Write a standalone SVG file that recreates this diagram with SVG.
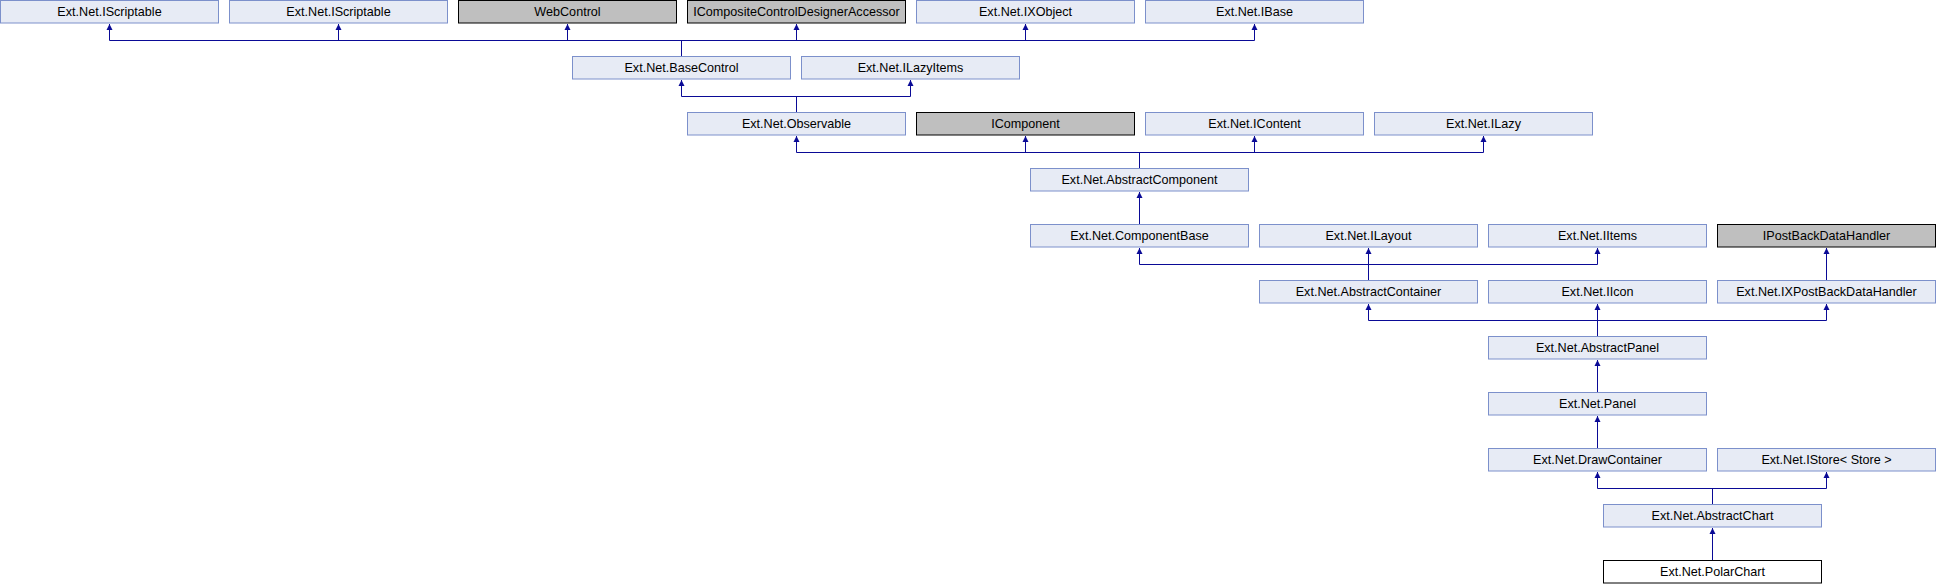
<svg xmlns="http://www.w3.org/2000/svg" width="1936" height="584" viewBox="0 0 1936 584">
<style>
.n rect{fill:#e7ebf5;stroke:#7c90cb;stroke-width:1}
.g rect{fill:#bfbfbf;stroke:#000;stroke-width:1}
.w rect{fill:#fff;stroke:#000;stroke-width:1}
text{font-family:"Liberation Sans",Arial,sans-serif;font-size:12.6px;fill:#000;text-anchor:middle}
#edges path{fill:none;stroke:#0a0a96;stroke-width:1}
#edges path.a{marker-end:url(#arr)}
</style>
<defs>
<marker id="arr" markerUnits="userSpaceOnUse" markerWidth="10" markerHeight="10" refX="0" refY="0" orient="auto" viewBox="-8 -5 10 10" overflow="visible">
<path d="M0,0 L-6,-3 L-6,3 Z" fill="#0a0a96" stroke="none"/>
</marker>
</defs>
<rect width="1936" height="584" fill="#fff"/>
<g id="edges">
<!-- BaseControl -> row0 -->
<path d="M109.5,40.5 H1254.5"/>
<path d="M681.5,56 V40.5"/>
<path class="a" d="M109.5,40.5 V24"/>
<path class="a" d="M338.5,40.5 V24"/>
<path class="a" d="M567.5,40.5 V24"/>
<path class="a" d="M796.5,40.5 V24"/>
<path class="a" d="M1025.5,40.5 V24"/>
<path class="a" d="M1254.5,40.5 V24"/>
<!-- Observable -> BaseControl, ILazyItems -->
<path d="M681.5,96.5 H910.5"/>
<path d="M796.5,112 V96.5"/>
<path class="a" d="M681.5,96.5 V80"/>
<path class="a" d="M910.5,96.5 V80"/>
<!-- AbstractComponent -> row2 -->
<path d="M796.5,152.5 H1483.5"/>
<path d="M1139.5,168 V152.5"/>
<path class="a" d="M796.5,152.5 V136"/>
<path class="a" d="M1025.5,152.5 V136"/>
<path class="a" d="M1254.5,152.5 V136"/>
<path class="a" d="M1483.5,152.5 V136"/>
<!-- ComponentBase -> AbstractComponent -->
<path class="a" d="M1139.5,224 V192"/>
<!-- AbstractContainer -> ComponentBase, ILayout, IItems -->
<path d="M1139.5,264.5 H1597.5"/>
<path class="a" d="M1368.5,280 V248"/>
<path class="a" d="M1139.5,264.5 V248"/>
<path class="a" d="M1597.5,264.5 V248"/>
<!-- IXPostBackDataHandler -> IPostBackDataHandler -->
<path class="a" d="M1826.5,280 V248"/>
<!-- AbstractPanel -> AbstractContainer, IIcon, IXPostBack -->
<path d="M1368.5,320.5 H1826.5"/>
<path class="a" d="M1597.5,336 V304"/>
<path class="a" d="M1368.5,320.5 V304"/>
<path class="a" d="M1826.5,320.5 V304"/>
<!-- Panel -> AbstractPanel -->
<path class="a" d="M1597.5,392 V360"/>
<!-- DrawContainer -> Panel -->
<path class="a" d="M1597.5,448 V416"/>
<!-- AbstractChart -> DrawContainer, IStore -->
<path d="M1597.5,488.5 H1826.5"/>
<path d="M1712.5,504 V488.5"/>
<path class="a" d="M1597.5,488.5 V472"/>
<path class="a" d="M1826.5,488.5 V472"/>
<!-- PolarChart -> AbstractChart -->
<path class="a" d="M1712.5,560 V528"/>
</g>
<g id="n_iscriptable1" class="n"><rect x="0.5" y="0.5" width="218" height="22.5"/><text x="109.5" y="15.5">Ext.Net.IScriptable</text></g>
<g id="n_iscriptable2" class="n"><rect x="229.5" y="0.5" width="218" height="22.5"/><text x="338.5" y="15.5">Ext.Net.IScriptable</text></g>
<g id="n_webcontrol" class="g"><rect x="458.5" y="0.5" width="218" height="22.5"/><text x="567.5" y="15.5">WebControl</text></g>
<g id="n_icompositecontroldesigneraccessor" class="g"><rect x="687.5" y="0.5" width="218" height="22.5"/><text x="796.5" y="15.5">ICompositeControlDesignerAccessor</text></g>
<g id="n_ixobject" class="n"><rect x="916.5" y="0.5" width="218" height="22.5"/><text x="1025.5" y="15.5">Ext.Net.IXObject</text></g>
<g id="n_ibase" class="n"><rect x="1145.5" y="0.5" width="218" height="22.5"/><text x="1254.5" y="15.5">Ext.Net.IBase</text></g>

<g id="n_basecontrol" class="n"><rect x="572.5" y="56.5" width="218" height="22.5"/><text x="681.5" y="71.5">Ext.Net.BaseControl</text></g>
<g id="n_ilazyitems" class="n"><rect x="801.5" y="56.5" width="218" height="22.5"/><text x="910.5" y="71.5">Ext.Net.ILazyItems</text></g>

<g id="n_observable" class="n"><rect x="687.5" y="112.5" width="218" height="22.5"/><text x="796.5" y="127.5">Ext.Net.Observable</text></g>
<g id="n_icomponent" class="g"><rect x="916.5" y="112.5" width="218" height="22.5"/><text x="1025.5" y="127.5">IComponent</text></g>
<g id="n_icontent" class="n"><rect x="1145.5" y="112.5" width="218" height="22.5"/><text x="1254.5" y="127.5">Ext.Net.IContent</text></g>
<g id="n_ilazy" class="n"><rect x="1374.5" y="112.5" width="218" height="22.5"/><text x="1483.5" y="127.5">Ext.Net.ILazy</text></g>

<g id="n_abstractcomponent" class="n"><rect x="1030.5" y="168.5" width="218" height="22.5"/><text x="1139.5" y="183.5">Ext.Net.AbstractComponent</text></g>

<g id="n_componentbase" class="n"><rect x="1030.5" y="224.5" width="218" height="22.5"/><text x="1139.5" y="239.5">Ext.Net.ComponentBase</text></g>
<g id="n_ilayout" class="n"><rect x="1259.5" y="224.5" width="218" height="22.5"/><text x="1368.5" y="239.5">Ext.Net.ILayout</text></g>
<g id="n_iitems" class="n"><rect x="1488.5" y="224.5" width="218" height="22.5"/><text x="1597.5" y="239.5">Ext.Net.IItems</text></g>
<g id="n_ipostbackdatahandler" class="g"><rect x="1717.5" y="224.5" width="218" height="22.5"/><text x="1826.5" y="239.5">IPostBackDataHandler</text></g>

<g id="n_abstractcontainer" class="n"><rect x="1259.5" y="280.5" width="218" height="22.5"/><text x="1368.5" y="295.5">Ext.Net.AbstractContainer</text></g>
<g id="n_iicon" class="n"><rect x="1488.5" y="280.5" width="218" height="22.5"/><text x="1597.5" y="295.5">Ext.Net.IIcon</text></g>
<g id="n_ixpostbackdatahandler" class="n"><rect x="1717.5" y="280.5" width="218" height="22.5"/><text x="1826.5" y="295.5">Ext.Net.IXPostBackDataHandler</text></g>

<g id="n_abstractpanel" class="n"><rect x="1488.5" y="336.5" width="218" height="22.5"/><text x="1597.5" y="351.5">Ext.Net.AbstractPanel</text></g>
<g id="n_panel" class="n"><rect x="1488.5" y="392.5" width="218" height="22.5"/><text x="1597.5" y="407.5">Ext.Net.Panel</text></g>
<g id="n_drawcontainer" class="n"><rect x="1488.5" y="448.5" width="218" height="22.5"/><text x="1597.5" y="463.5">Ext.Net.DrawContainer</text></g>
<g id="n_istore" class="n"><rect x="1717.5" y="448.5" width="218" height="22.5"/><text x="1826.5" y="463.5" xml:space="preserve">Ext.Net.IStore&lt; Store &gt;</text></g>
<g id="n_abstractchart" class="n"><rect x="1603.5" y="504.5" width="218" height="22.5"/><text x="1712.5" y="519.5">Ext.Net.AbstractChart</text></g>
<g id="n_polarchart" class="w"><rect x="1603.5" y="560.5" width="218" height="22.5"/><text x="1712.5" y="575.5">Ext.Net.PolarChart</text></g>
</svg>
